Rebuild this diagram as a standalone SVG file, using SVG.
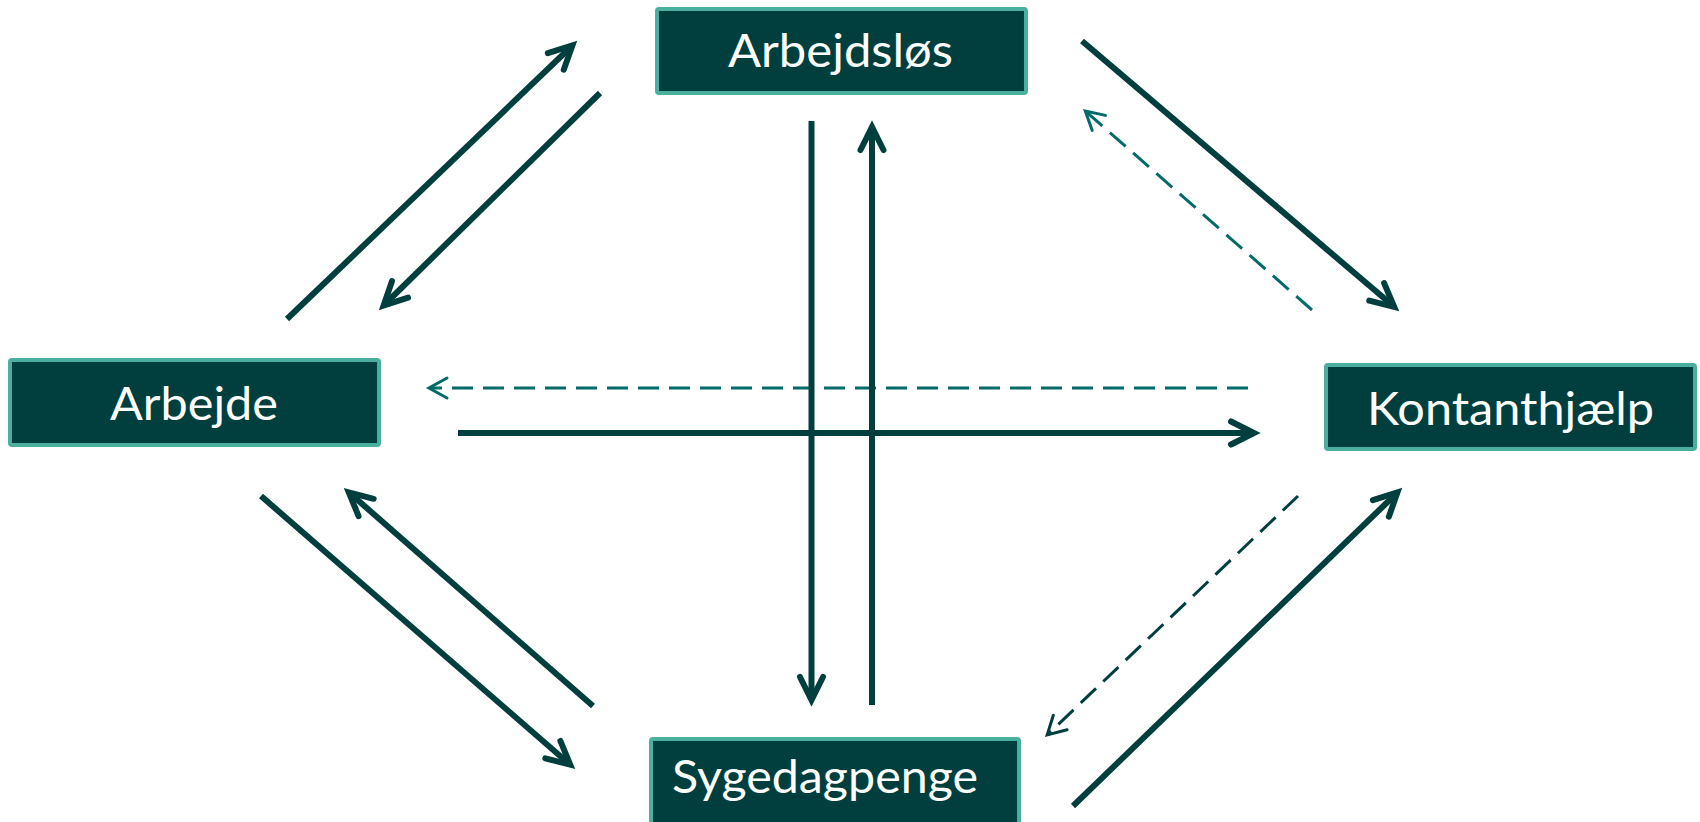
<svg xmlns="http://www.w3.org/2000/svg" width="1700" height="822" viewBox="0 0 1700 822">
  <defs>
    <style>
      .box { fill: #013f3f; stroke: #4baf9f; stroke-width: 4; }
      .lbl { fill: #ffffff; font-family: Lato, "Open Sans", "Liberation Sans", sans-serif; font-size: 47px; text-anchor: middle; }
      .solid { stroke: #013f3f; stroke-width: 6; fill: none; stroke-linecap: butt; }
      .dashT { stroke: #006b68; stroke-width: 3; fill: none; stroke-dasharray: 21 10; }
      .dashD { stroke: #013f3f; stroke-width: 3; fill: none; stroke-dasharray: 21 10; }
    </style>
    <marker id="ahS" markerUnits="userSpaceOnUse" orient="auto" refX="0" refY="0" markerWidth="40" markerHeight="40" viewBox="-30 -20 40 40" overflow="visible">
      <path d="M-23,-11.5 L0,0 L-23,11.5" fill="none" stroke="#013f3f" stroke-width="6" stroke-linecap="round" stroke-linejoin="miter"/>
    </marker>
    <marker id="ahT" markerUnits="userSpaceOnUse" orient="auto" refX="0" refY="0" markerWidth="40" markerHeight="40" viewBox="-30 -20 40 40" overflow="visible">
      <path d="M-18,-10 L0,0 L-18,10" fill="none" stroke="#006b68" stroke-width="3" stroke-linecap="round" stroke-linejoin="miter"/>
    </marker>
    <marker id="ahD" markerUnits="userSpaceOnUse" orient="auto" refX="0" refY="0" markerWidth="40" markerHeight="40" viewBox="-30 -20 40 40" overflow="visible">
      <path d="M-18,-10 L0,0 L-18,10" fill="none" stroke="#013f3f" stroke-width="3" stroke-linecap="round" stroke-linejoin="miter"/>
    </marker>
  </defs>
  <rect width="1700" height="822" fill="#ffffff"/>

  <g id="connectors">
    <line class="solid" x1="287" y1="319" x2="572.4" y2="45.5" marker-end="url(#ahS)"/>
    <line class="solid" x1="600" y1="93" x2="383.6" y2="305.5" marker-end="url(#ahS)"/>
    <line class="solid" x1="1082" y1="41" x2="1394.2" y2="306.8" marker-end="url(#ahS)"/>
    <line class="dashT" x1="1312" y1="310" x2="1085.3" y2="111" marker-end="url(#ahT)"/>
    <line class="dashT" x1="1248" y1="388" x2="429" y2="388" marker-end="url(#ahT)"/>
    <line class="solid" x1="458" y1="433" x2="1254" y2="433" marker-end="url(#ahS)"/>
    <line class="solid" x1="811.5" y1="121" x2="811.5" y2="700" marker-end="url(#ahS)"/>
    <line class="solid" x1="872" y1="705" x2="872" y2="127" marker-end="url(#ahS)"/>
    <line class="solid" x1="261" y1="496" x2="570.2" y2="764.7" marker-end="url(#ahS)"/>
    <line class="solid" x1="593" y1="706" x2="348.8" y2="492.3" marker-end="url(#ahS)"/>
    <line class="dashD" x1="1298" y1="496" x2="1047.2" y2="734.9" marker-end="url(#ahD)"/>
    <line class="solid" x1="1073" y1="806" x2="1397.4" y2="492.5" marker-end="url(#ahS)"/>
  </g>

  <g id="node-arbejdslos">
    <rect class="box" x="657" y="9" width="369" height="84" rx="2"/>
    <text class="lbl" x="840.5" y="67" textLength="225" lengthAdjust="spacingAndGlyphs">Arbejdsløs</text>
  </g>
  <g id="node-arbejde">
    <rect class="box" x="10" y="360" width="369" height="85" rx="2"/>
    <text class="lbl" x="194" y="420" textLength="168" lengthAdjust="spacingAndGlyphs">Arbejde</text>
  </g>
  <g id="node-kontanthjaelp">
    <rect class="box" x="1326" y="365" width="369" height="84" rx="2"/>
    <text class="lbl" x="1510.5" y="425" textLength="287" lengthAdjust="spacingAndGlyphs">Kontanthjælp</text>
  </g>
  <g id="node-sygedagpenge">
    <rect class="box" x="651" y="739" width="368" height="100" rx="2"/>
    <text class="lbl" x="825" y="793" textLength="306" lengthAdjust="spacingAndGlyphs">Sygedagpenge</text>
  </g>
</svg>
